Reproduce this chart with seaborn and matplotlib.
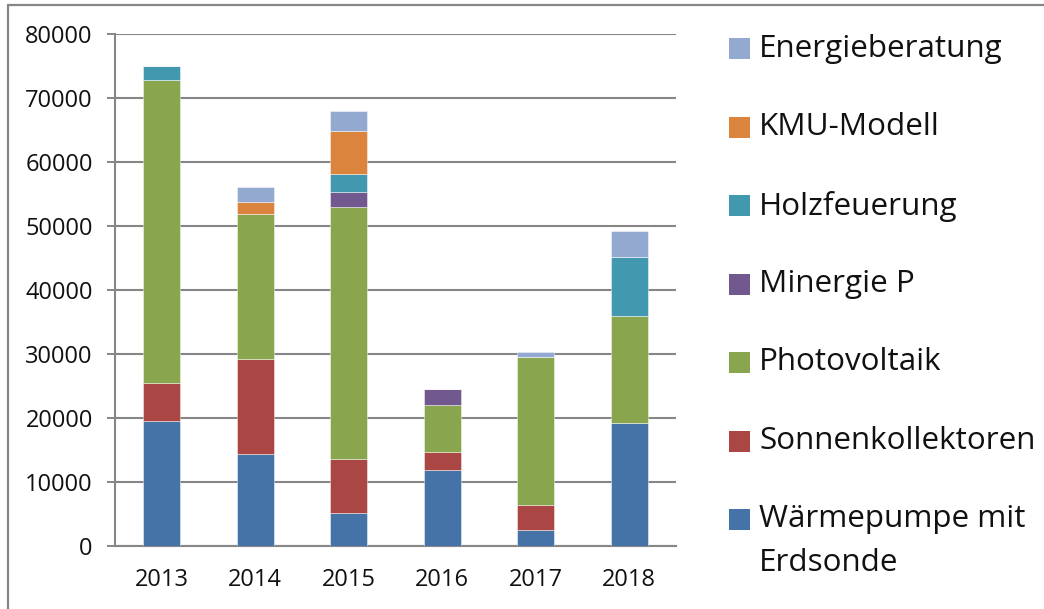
import numpy as np
import pandas as pd
import matplotlib
matplotlib.use("Agg")
import matplotlib.pyplot as plt
import seaborn as sns
from matplotlib.patches import Rectangle
from matplotlib.lines import Line2D

# ---- data ----
years = [2013, 2014, 2015, 2016, 2017, 2018]
waermepumpe = [19500, 14300, 5100, 11900, 2500, 19100]
sonnenkollektoren = [5900, 14800, 8500, 2700, 3900, 0]
photovoltaik = [47300, 22800, 39400, 7400, 23100, 16800]
minergie_p = [0, 0, 2300, 2500, 0, 0]
holzfeuerung = [2300, 0, 2800, 0, 0, 9200]
kmu_modell = [0, 1800, 6700, 0, 0, 0]
energieberatung = [0, 2300, 3100, 0, 800, 4000]

series_names = ["Energieberatung", "KMU-Modell", "Holzfeuerung", "Minergie P",
                "Photovoltaik", "Sonnenkollektoren", "Wärmepumpe mit\nErdsonde"]
series_values = [energieberatung, kmu_modell, holzfeuerung, minergie_p,
                 photovoltaik, sonnenkollektoren, waermepumpe]
series_colors = ["#93A9CF", "#DB843D", "#4198AF", "#71588F",
                 "#89A54E", "#AA4643", "#4572A7"]
y_ticks = list(range(0, 80001, 10000))

rows = []
for name, vals in zip(series_names, series_values):
    for yr, v in zip(years, vals):
        rows.append({"year": yr, "value": v, "series": name})
df = pd.DataFrame(rows)

sns.set_theme(style="white")
plt.rcParams["font.family"] = ["Open Sans", "DejaVu Sans"]

fig = plt.figure(figsize=(10.44, 6.09), dpi=100)
ax = fig.add_axes([115 / 1044, 1 - 545.7 / 609, (676 - 115) / 1044, (545.7 - 33.7) / 609])

grid_c = "#868686"
sns.histplot(data=df, x="year", weights="value", hue="series", hue_order=series_names,
             palette=dict(zip(series_names, series_colors)), multiple="stack",
             discrete=True, shrink=0.4, alpha=1, edgecolor=(1, 1, 1, 0.45),
             linewidth=0.7, legend=False, ax=ax, zorder=3)

ax.set_xlim(years[0] - 0.5, years[-1] + 0.5)
ax.set_ylim(0, 80000)
ax.set_yticks(y_ticks)
ax.set_yticklabels([str(t) for t in y_ticks], fontsize=17, color="#111111")
ax.set_xticks(years)
ax.set_xticklabels([str(y) for y in years], fontsize=17, color="#111111")
ax.set_xticks([y - 0.5 for y in years] + [years[-1] + 0.5], minor=True)
ax.tick_params(axis="x", which="major", length=0, pad=16)
ax.tick_params(axis="x", which="minor", length=6, width=1.4, color=grid_c, direction="out")
ax.tick_params(axis="y", which="major", length=6, width=1.4, color=grid_c, direction="out", pad=10, left=True)
ax.set_xlabel("")
ax.set_ylabel("")
ax.yaxis.grid(True, color=grid_c, linewidth=1.5, zorder=0)
ax.set_axisbelow(True)
for s in ["top", "right"]:
    ax.spines[s].set_visible(False)
ax.spines["left"].set_color(grid_c)
ax.spines["left"].set_linewidth(1.5)
ax.spines["bottom"].set_color(grid_c)
ax.spines["bottom"].set_linewidth(1.5)

# ---- legend (manual, matches reference layout) ----
leg_x = 729 / 1044
sq_w = 21 / 1044
sq_h = 21 / 609
y0 = 48.5
dy = 78.5
for i, (name, col) in enumerate(zip(series_names, series_colors)):
    yc = y0 + i * dy
    fig.add_artist(Rectangle((leg_x, 1 - (yc + 10.5) / 609), sq_w, sq_h,
                             transform=fig.transFigure, facecolor=col, edgecolor="none"))
    fig.text(759 / 1044, 1 - (yc - 15) / 609, name, fontsize=22.6, color="#111111",
             ha="left", va="top", linespacing=1.6)

# ---- outer frame ----
fig.add_artist(Line2D([8 / 1044, 8 / 1044], [0, 1 - 4.5 / 609], transform=fig.transFigure,
                      color=grid_c, linewidth=1.6))
fig.add_artist(Line2D([8 / 1044, 1], [1 - 4.5 / 609, 1 - 4.5 / 609], transform=fig.transFigure,
                      color=grid_c, linewidth=1.6))

fig.savefig("out.png", dpi=100)
